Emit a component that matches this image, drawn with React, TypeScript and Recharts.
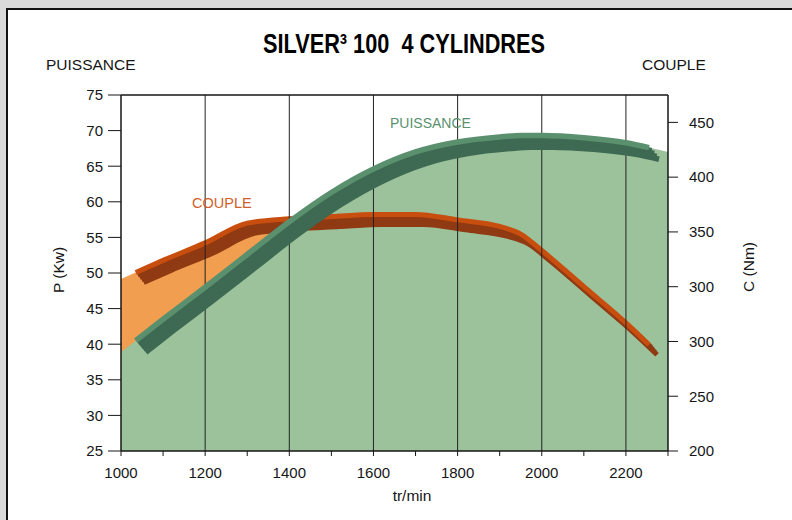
import { ComposedChart, Area, Line, XAxis, YAxis, ReferenceLine } from "recharts"

const rpm = [1000, 1035, 1100, 1200, 1300, 1400, 1500, 1600, 1700, 1800, 1900, 1950, 2000, 2100, 2200, 2255, 2300]
// puissance in kW (left axis)
const puissance = [38.9, 40.5, 43.5, 48.0, 52.6, 57.2, 61.3, 64.6, 67.0, 68.4, 69.1, 69.3, 69.3, 69.0, 68.3, 67.6, 67.0]
// couple in Nm (right axis)
const couple = [357, 363, 374, 390, 408, 412, 414, 416, 416, 411, 405, 398, 383, 350, 317, 297, 282]

const pTicks = [25, 30, 35, 40, 45, 50, 55, 60, 65, 70, 75]
const cTicks = [200, 250, 300, 350, 400, 450, 500]
const cTickLabels = ["200", "250", "300", "300", "350", "400", "450"]
const rpmTicks = [1000, 1100, 1200, 1300, 1400, 1500, 1600, 1700, 1800, 1900, 2000, 2100, 2200, 2300]
const rpmLabels = [1000, 1200, 1400, 1600, 1800, 2000, 2200]
const gridRpm = [1200, 1400, 1600, 1800, 2000, 2200]

const last = rpm.length - 1
const data = rpm.map((r, i) => ({
  rpm: r,
  p: puissance[i],
  c: couple[i],
  // the ribbons stop a little short of the plot edges
  pLine: i === 0 || i === last ? null : puissance[i],
  cLine: i === 0 || i === last ? null : couple[i],
}))

const FONT = "'Liberation Sans', Arial, Helvetica, sans-serif"
const INK = "#161616"

const GREEN_TOP = "#5a906e"
const GREEN_SIDE = "#3e6952"
const GREEN_FILL = "#9cc29b"
const ORANGE_TOP = "#c84e10"
const ORANGE_SIDE = "#8f3a12"
const ORANGE_FILL = "#f29e50"

const steps = [1, 2, 3, 4]
const css = `
body { margin: 0; }
${steps.map((k) => `.rib-g-${k} { transform: translate(${2.5 * k}px, ${2.9 * k}px); }`).join("\n")}
${steps.map((k) => `.rib-c-${k} { transform: translate(${2 * k}px, ${2.5 * k}px); }`).join("\n")}
`

export default function App() {
  const tick = { fill: INK, fontSize: 15, fontFamily: FONT }
  return (
    <div style={{ position: "relative", width: 792, height: 520, background: "#d9d9d9", overflow: "hidden" }}>
      <style>{css}</style>
      <div
        style={{
          position: "absolute",
          left: 6,
          top: 8,
          width: 800,
          height: 520,
          background: "#fff",
          borderTop: "2.5px solid #111",
          borderLeft: "2.5px solid #111",
        }}
      />
      <div style={{ position: "absolute", left: 0, top: 0 }}>
        <ComposedChart width={792} height={520} data={data} margin={{ top: 95, right: 0, bottom: 0, left: 0 }}>
          <XAxis
            dataKey="rpm"
            type="number"
            domain={[1000, 2300]}
            ticks={rpmTicks}
            interval={0}
            tickFormatter={(v) => (rpmLabels.includes(v) ? String(v) : "")}
            height={69}
            tickSize={5}
            tickMargin={11}
            tick={tick}
            axisLine={{ stroke: INK, strokeWidth: 1.5 }}
            tickLine={{ stroke: INK }}
          />
          <YAxis
            yAxisId="left"
            domain={[25, 75]}
            ticks={pTicks}
            interval={0}
            width={121}
            tickSize={13}
            tickMargin={5}
            tick={tick}
            axisLine={{ stroke: INK, strokeWidth: 1.5 }}
            tickLine={{ stroke: INK }}
          />
          <YAxis
            yAxisId="right"
            orientation="right"
            domain={[200, 525]}
            ticks={cTicks}
            interval={0}
            tickFormatter={(v) => cTickLabels[cTicks.indexOf(v)]}
            width={124}
            tickSize={10}
            tickMargin={11}
            tick={tick}
            axisLine={{ stroke: INK, strokeWidth: 1.5 }}
            tickLine={{ stroke: INK }}
          />

          <Area yAxisId="right" type="monotone" dataKey="c" fill={ORANGE_FILL} fillOpacity={1} stroke="none" isAnimationActive={false} />
          <Area yAxisId="left" type="monotone" dataKey="p" fill={GREEN_FILL} fillOpacity={1} stroke="none" isAnimationActive={false} />

          {steps.map((k) => (
            <Line
              key={"cs" + k}
              className={"rib-c-" + k}
              yAxisId="right"
              type="monotone"
              dataKey="cLine"
              stroke={ORANGE_SIDE}
              strokeWidth={5}
              strokeLinejoin="round"
              dot={false}
              activeDot={false}
              isAnimationActive={false}
            />
          ))}
          <Line
            yAxisId="right"
            type="monotone"
            dataKey="cLine"
            stroke={ORANGE_TOP}
            strokeWidth={5}
            strokeLinejoin="round"
            dot={false}
            activeDot={false}
            isAnimationActive={false}
          />

          {gridRpm.map((x) => (
            <ReferenceLine key={x} yAxisId="left" x={x} stroke="#222" strokeWidth={1} />
          ))}
          <ReferenceLine yAxisId="left" y={75} stroke={INK} strokeWidth={1.5} />

          {steps.map((k) => (
            <Line
              key={"ps" + k}
              className={"rib-g-" + k}
              yAxisId="left"
              type="monotone"
              dataKey="pLine"
              stroke={GREEN_SIDE}
              strokeWidth={5.5}
              strokeLinejoin="round"
              dot={false}
              activeDot={false}
              isAnimationActive={false}
            />
          ))}
          <Line
            yAxisId="left"
            type="monotone"
            dataKey="pLine"
            stroke={GREEN_TOP}
            strokeWidth={5.5}
            strokeLinejoin="round"
            dot={false}
            activeDot={false}
            isAnimationActive={false}
          />
        </ComposedChart>
      </div>

      <svg width={792} height={520} style={{ position: "absolute", left: 0, top: 0, pointerEvents: "none" }}>
        <text
          x={263}
          y={53}
          fontFamily="'Liberation Sans Narrow', 'Liberation Sans', Arial, sans-serif"
          fontWeight="bold"
          fontSize={27}
          fill="#000"
          textLength={282}
          lengthAdjust="spacingAndGlyphs"
          style={{ whiteSpace: "pre" }}
        >
          {"SILVER³ 100  4 CYLINDRES"}
        </text>
        <text x={46} y={70} fontFamily={FONT} fontSize={15.5} fill={INK}>
          PUISSANCE
        </text>
        <text x={642} y={70} fontFamily={FONT} fontSize={15.5} fill={INK}>
          COUPLE
        </text>
        <text
          x={0}
          y={0}
          transform="translate(64 270) rotate(-90)"
          textAnchor="middle"
          fontFamily={FONT}
          fontSize={15.5}
          fill={INK}
        >
          P (Kw)
        </text>
        <text
          x={0}
          y={0}
          transform="translate(754 267) rotate(-90)"
          textAnchor="middle"
          fontFamily={FONT}
          fontSize={15.5}
          fill={INK}
        >
          C (Nm)
        </text>
        <text x={412} y={501} textAnchor="middle" fontFamily={FONT} fontSize={15.5} fill={INK}>
          tr/min
        </text>
        <text x={390} y={128} fontFamily={FONT} fontSize={14} fill={GREEN_TOP}>
          PUISSANCE
        </text>
        <text x={192} y={208} fontFamily={FONT} fontSize={14.5} fill="#d0602a">
          COUPLE
        </text>
      </svg>
    </div>
  )
}
